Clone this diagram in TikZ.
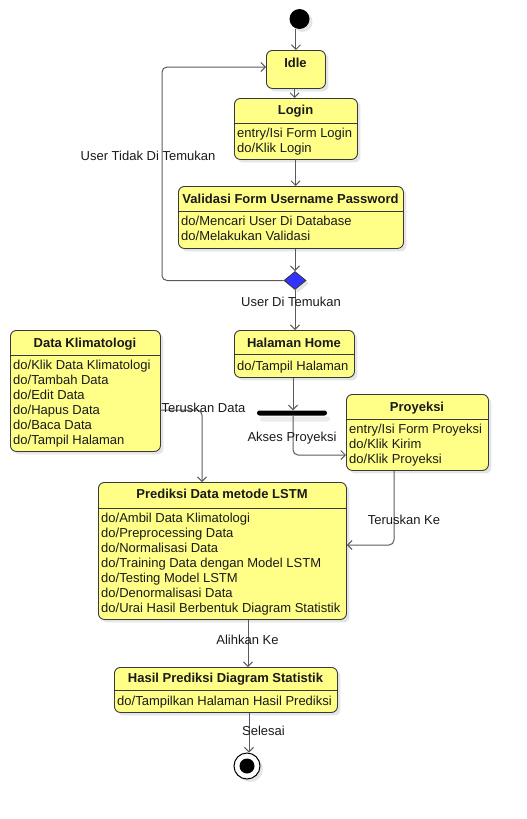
\documentclass[tikz,border=0pt]{standalone}
\usepackage{fontspec}
\setmainfont{Liberation Sans}
\usetikzlibrary{arrows.meta,shadows,shapes.geometric,calc}
\definecolor{stfill}{HTML}{FFFF88}
\definecolor{stline}{HTML}{36393D}
\definecolor{conn}{HTML}{5A5A5A}
\definecolor{dia}{HTML}{3333FF}
\definecolor{txt}{HTML}{1A1A1A}
\begin{document}
\begin{tikzpicture}[x=1pt,y=-1pt,
  shade/.style={drop shadow={shadow xshift=3pt,shadow yshift=-3pt,fill=black,opacity=0.10}},
  statebox/.style={draw=stline,fill=stfill,rounded corners=6pt,line width=0.9pt,inner sep=0pt,anchor=north west,shade},
  ttl/.style={font=\fontsize{13}{15}\selectfont\bfseries,text=txt,inner sep=0pt,anchor=base},
  bodyline/.style={font=\fontsize{13}{15}\selectfont,text=txt,inner sep=0pt,anchor=base west},
  lbl/.style={font=\fontsize{13}{15}\selectfont,text=txt,inner sep=0pt},
  divider/.style={draw=stline,line width=0.9pt},
  conn/.style={draw=conn,line width=1pt,rounded corners=5pt,-{Straight Barb[length=4.5pt,width=9pt,line width=1pt]}}
]
\useasboundingbox (0,0) rectangle (527,819);

% initial state
\node[circle,fill=black,minimum size=20pt,inner sep=0pt,shade] (init) at (299.5,19) {};

% Idle
\node[statebox,minimum width=59pt,minimum height=38pt] (idle) at (266,50) {};
\node[ttl] (idlet) at (295.5,67) {Idle};

% Login
\node[statebox,minimum width=123pt,minimum height=61pt] (login) at (234,98) {};
\node[ttl] (logint) at (295.5,114.5) {Login};
\draw[divider] (234,123) -- (357,123);
\foreach \t [count=\i] in {entry/Isi Form Login,do/Klik Login}
  \node[bodyline] (login-\i) at (237,{137.5+15*(\i-1)}) {\t};

% Validasi
\node[statebox,minimum width=225pt,minimum height=62pt] (valid) at (178,186) {};
\node[ttl] (validt) at (290.5,203) {Validasi Form Username Password};
\draw[divider] (178,211) -- (403,211);
\foreach \t [count=\i] in {do/Mencari User Di Database,do/Melakukan Validasi}
  \node[bodyline] (valid-\i) at (181,{225.5+15*(\i-1)}) {\t};

% decision
\node[diamond,draw=stline,fill=dia,line width=0.9pt,minimum width=22pt,minimum height=18pt,inner sep=0pt,shade] (dec) at (295,280.5) {};

% Halaman Home
\node[statebox,minimum width=120pt,minimum height=47pt] (home) at (234,330) {};
\node[ttl] (homet) at (294,347) {Halaman Home};
\draw[divider] (234,354) -- (354,354);
\node[bodyline] (home-1) at (237,370.5) {do/Tampil Halaman};

% Data Klimatologi
\node[statebox,minimum width=150pt,minimum height=121pt] (dk) at (10,330) {};
\node[ttl] (dkt) at (85,347) {Data Klimatologi};
\draw[divider] (10,355) -- (160,355);
\foreach \t [count=\i] in {do/Klik Data Klimatologi,do/Tambah Data,do/Edit Data,do/Hapus Data,do/Baca Data,do/Tampil Halaman}
  \node[bodyline] (dk-\i) at (13,{369.5+15*(\i-1)}) {\t};

% fork bar
\node[rectangle,fill=black,rounded corners=2.5pt,minimum width=70pt,minimum height=5pt,inner sep=0pt,drop shadow={shadow xshift=3pt,shadow yshift=-6pt,fill=black,opacity=0.08}] (bar) at (292,413) {};

% Proyeksi
\node[statebox,minimum width=142pt,minimum height=76pt] (proy) at (346,394) {};
\node[ttl] (proyt) at (417,411) {Proyeksi};
\draw[divider] (346,419) -- (488,419);
\foreach \t [count=\i] in {entry/Isi Form Proyeksi,do/Klik Kirim,do/Klik Proyeksi}
  \node[bodyline] (proy-\i) at (349,{433.5+15*(\i-1)}) {\t};

% Prediksi
\node[statebox,minimum width=248pt,minimum height=137pt] (pred) at (98,482) {};
\node[ttl] (predt) at (222,498.5) {Prediksi Data metode LSTM};
\draw[divider] (98,508) -- (346,508);
\foreach \t [count=\i] in {do/Ambil Data Klimatologi,do/Preprocessing Data,do/Normalisasi Data,do/Training Data dengan Model LSTM,do/Testing Model LSTM,do/Denormalisasi Data,do/Urai Hasil Berbentuk Diagram Statistik}
  \node[bodyline] (pred-\i) at (101,{522+15*(\i-1)}) {\t};

% Hasil
\node[statebox,minimum width=223pt,minimum height=45pt] (hasil) at (114,667) {};
\node[ttl] (hasilt) at (225.5,682.5) {Hasil Prediksi Diagram Statistik};
\draw[divider] (114,690) -- (337,690);
\node[bodyline] (hasil-1) at (117,705.5) {do/Tampilkan Halaman Hasil Prediksi};

% final state
\node[circle,draw=black,fill=white,line width=1pt,minimum size=26pt,inner sep=0pt,shade] (final) at (247,766) {};
\node[circle,fill=black,minimum size=15pt,inner sep=0pt] (finalin) at (final.center) {};

% connectors
\draw[conn] (init.south -| idle.north) -- (idle.north);
\draw[conn] (idle.south -| 294.5,0) -- (login.north -| 294.5,0);
\draw[conn] (login.south -| 295.5,0) -- (valid.north -| 295.5,0);
\draw[conn] (valid.south -| dec.north) -- (dec.north);
\draw[conn] (dec.west) -- (162,280.5) -- (162,67) -- (idle.west |- 0,67);
\draw[conn] (dec.south) -- (home.north -| dec.south);
\draw[conn] (home.south -| 293,0) -- (bar.north -| 293,0);
\draw[conn] (bar.south -| 293,0) -- (293,455) -- (proy.west |- 0,455);
\draw[conn] (dk.east |- 0,410) -- (202,410) -- (pred.north -| 202,0);
\draw[conn] (proy.south -| 394,0) -- (394,545) -- (pred.east |- 0,545);
\draw[conn] (pred.south -| 248,0) -- (hasil.north -| 248,0);
\draw[conn] (hasil.south -| 249,0) -- (final.north -| 249,0);

% labels
\node[lbl] (l1) at (148,156) {User Tidak Di Temukan};
\node[lbl] (l2) at (291,302) {User Di Temukan};
\node[lbl] (l3) at (203.5,408) {Teruskan Data};
\node[lbl] (l4) at (292,438) {Akses Proyeksi};
\node[lbl] (l5) at (404,520) {Teruskan Ke};
\node[lbl] (l6) at (247.5,640) {Alihkan Ke};
\node[lbl] (l7) at (263.5,731) {Selesai};
\end{tikzpicture}
\end{document}
